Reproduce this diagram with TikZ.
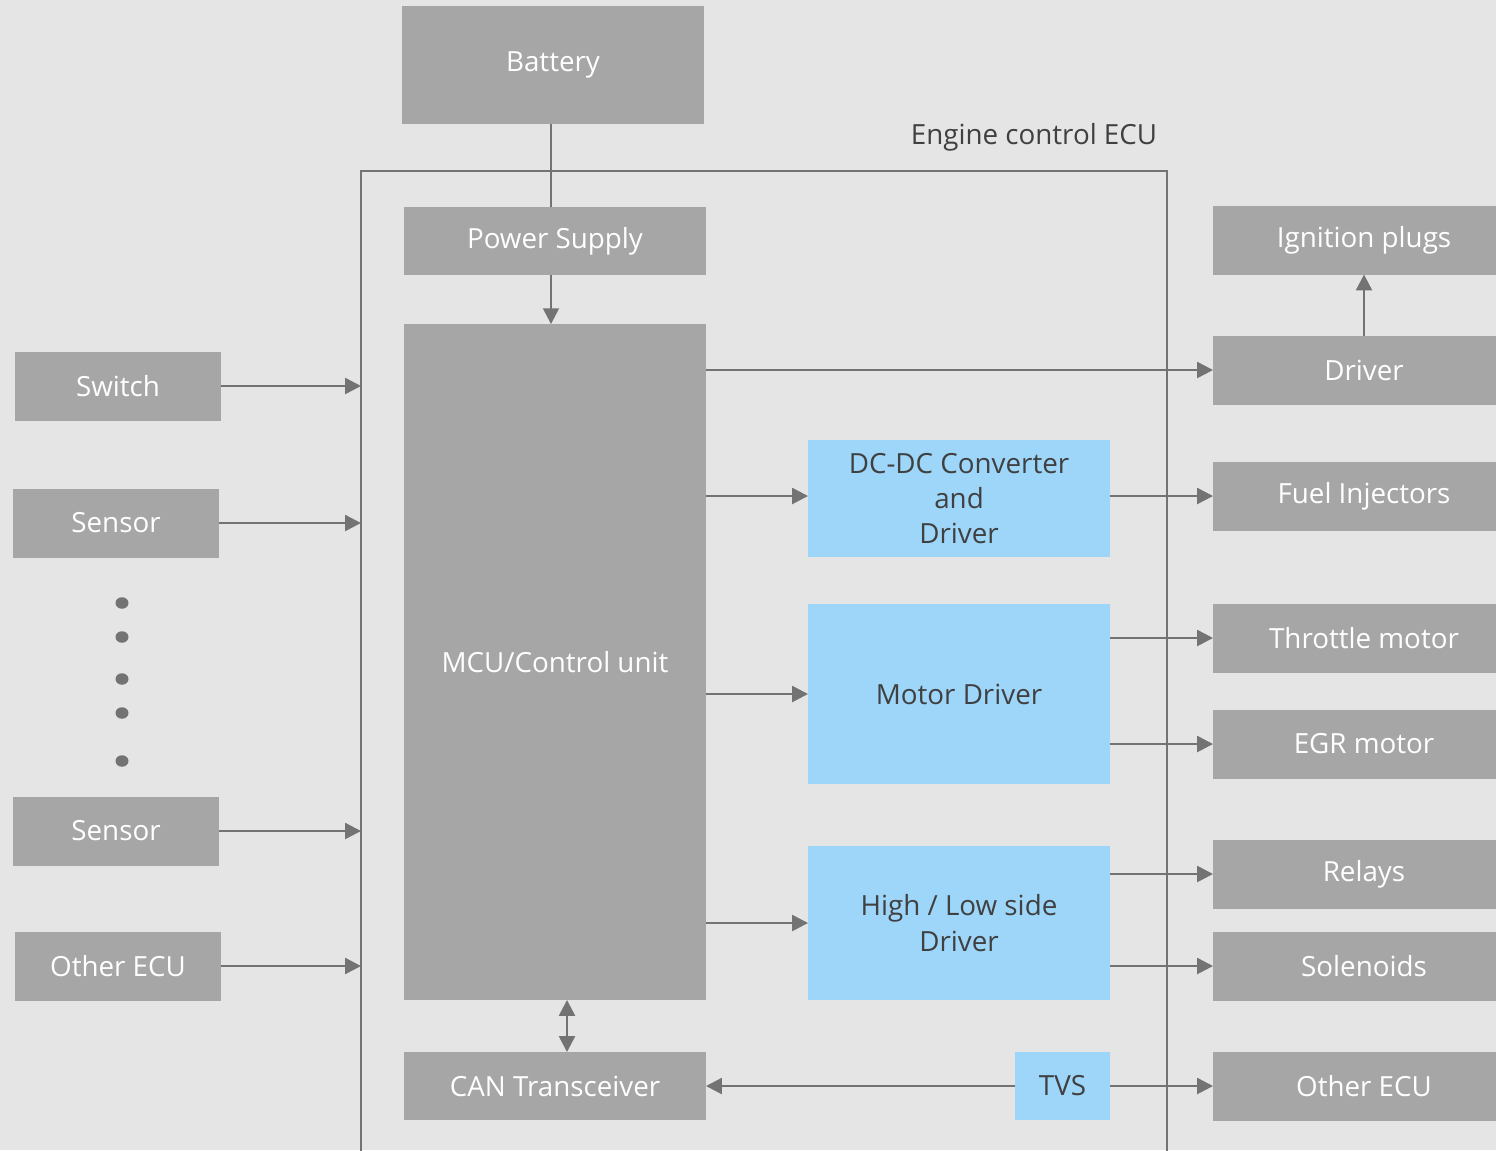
\documentclass[tikz,border=0pt]{standalone}
\usepackage{fontspec}
\setmainfont{Open Sans}
\usetikzlibrary{arrows.meta}
\definecolor{bgc}{HTML}{E5E5E5}
\definecolor{boxg}{HTML}{A6A6A6}
\definecolor{boxb}{HTML}{9DD6F9}
\definecolor{linec}{HTML}{737373}
\definecolor{txtd}{HTML}{404040}
\begin{document}
\begin{tikzpicture}[x=0.02cm,y=-0.02cm,
  gbox/.style={fill=boxg,draw=none,inner sep=0pt,outer sep=0pt,text=white,align=center,font=\fontsize{15.8}{20}\selectfont,minimum width=6.04cm},
  bbox/.style={fill=boxb,draw=none,inner sep=0pt,outer sep=0pt,text=txtd,align=center,font=\fontsize{15.8}{20}\selectfont,minimum width=6.04cm},
  lbox/.style={gbox,minimum width=4.12cm,minimum height=1.38cm},
  rbox/.style={gbox,minimum height=1.38cm},
  conn/.style={draw=linec,line width=1.4pt},
  arr/.style={conn,-{Triangle[length=9pt,width=9pt]}},
  arrb/.style={conn,{Triangle[length=9pt,width=9pt]}-{Triangle[length=9pt,width=9pt]}},
  lbl/.style={text=txtd,font=\fontsize{15.8}{20}\selectfont,inner sep=0pt}
]
\fill[bgc] (0,0) rectangle (1496,1150);
\useasboundingbox (0,0) rectangle (1496,1150);

% ECU frame
\draw[conn] (361,1160) -- (361,171) -- (1167,171) -- (1167,1160);
\node[lbl] (ecul) at (1034,137) {Engine control ECU};
\coordinate (frameL) at (361,0);
\coordinate (cx) at (567,0);

% inner blocks
\node[gbox,minimum height=2.36cm] (bat) at (553,65) {Battery};
\node[gbox,minimum height=1.36cm] (ps) at (555,241) {Power Supply};
\node[gbox,minimum height=13.52cm] (mcu) at (555,662) {MCU/Control unit};
\node[gbox,minimum height=1.36cm] (can) at (555,1086) {CAN Transceiver};
\node[bbox,minimum height=2.34cm] (dcdc) at (959,498.5) {DC-DC Converter\\and\\Driver};
\node[bbox,minimum height=3.60cm] (mot) at (959,694) {Motor Driver};
\node[bbox,minimum height=3.08cm] (hl) at (959,923) {High / Low side\\Driver};
\node[bbox,minimum width=1.90cm,minimum height=1.36cm] (tvs) at (1062.5,1086) {TVS};

% right blocks
\node[rbox] (ign) at (1364,240) {Ignition plugs};
\node[rbox] (drv) at (1364,370) {Driver};
\node[rbox] (fuel) at (1364,496) {Fuel Injectors};
\node[rbox] (thr) at (1364,638) {Throttle motor};
\node[rbox] (egr) at (1364,744) {EGR motor};
\node[rbox] (rel) at (1364,874) {Relays};
\node[rbox] (sol) at (1364,966) {Solenoids};
\node[rbox] (oecur) at (1364,1086) {Other ECU};

% left blocks
\node[lbox] (sw) at (118,386) {Switch};
\node[lbox] (sen1) at (116,523) {Sensor};
\node[lbox] (sen2) at (116,831) {Sensor};
\node[lbox] (oecul) at (118,966) {Other ECU};

% dots
\foreach \yy in {603,637,679,713,761}
  \fill[linec] (122,\yy) ellipse [x radius=0.13cm, y radius=0.115cm];

% connectors
\draw[conn] (bat.south -| 551,0) -- (ps.north -| 551,0);
\draw[arr] (ps.south -| 551,0) -- (mcu.north -| 551,0);
\draw[arr] (sw.east) -- (sw.east -| frameL);
\draw[arr] (sen1.east) -- (sen1.east -| frameL);
\draw[arr] (sen2.east) -- (sen2.east -| frameL);
\draw[arr] (oecul.east) -- (oecul.east -| frameL);
\draw[arr] (mcu.east |- drv.west) -- (drv.west);
\draw[arr] (drv.north) -- (ign.south);
\draw[arr] (mcu.east |- fuel.west) -- (dcdc.west |- fuel.west);
\draw[arr] (dcdc.east |- fuel.west) -- (fuel.west);
\draw[arr] (mcu.east |- mot.west) -- (mot.west);
\draw[arr] (mot.east |- thr.west) -- (thr.west);
\draw[arr] (mot.east |- egr.west) -- (egr.west);
\draw[arr] (mcu.east |- hl.west) -- (hl.west);
\draw[arr] (hl.east |- rel.west) -- (rel.west);
\draw[arr] (hl.east |- sol.west) -- (sol.west);
\draw[arrb] (mcu.south -| cx) -- (can.north -| cx);
\draw[arr] (tvs.west) -- (can.east);
\draw[arr] (tvs.east) -- (oecur.west);
\end{tikzpicture}
\end{document}
